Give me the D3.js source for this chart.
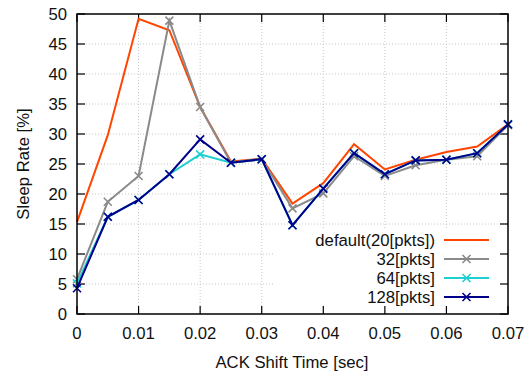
<!DOCTYPE html>
<html><head><meta charset="utf-8">
<script src="https://cdn.jsdelivr.net/npm/d3@7"></script>
<style>body{margin:0;background:#fff}svg{display:block}text{font-family:"Liberation Sans",Arial,sans-serif}</style>
</head><body><svg id="c" width="531" height="372"></svg>
<script>
const xs = [0,0.005,0.01,0.015,0.02,0.025,0.03,0.035,0.04,0.045,0.05,0.055,0.06,0.065,0.07];
const sDefault = [15.3,29.8,49.2,47.3,34.5,25.4,25.9,18.4,21.8,28.3,24.1,25.7,27.0,27.9,31.6];
const s32 = [5.8,18.7,23.0,48.9,34.5,25.2,25.8,17.6,20.1,26.3,23.0,24.8,25.7,26.3,31.5];
const s64 = [5.1,16.2,19.0,23.3,26.6,25.2,25.8,14.8,20.9,26.8,23.3,25.6,25.7,26.8,31.6];
const s128 = [4.3,16.2,19.0,23.3,29.1,25.2,25.8,14.8,20.9,26.8,23.3,25.6,25.7,26.8,31.6];
const seriesNames = ["default(20[pkts])","32[pkts]","64[pkts]","128[pkts]"];
const seriesColors = ["#ff4500","#8a8a8a","#1ecfd2","#00008b"];
const seriesMarkers = [false,true,true,true];
const xTicks = [0,0.01,0.02,0.03,0.04,0.05,0.06,0.07];
const yTicks = [0,5,10,15,20,25,30,35,40,45,50];
const xTitle = "ACK Shift Time [sec]";
const yTitle = "Sleep Rate [%]";

const FS = 16.7;
const series = [sDefault,s32,s64,s128];
const L=77,R=508,T=14,B=314;
const svg = d3.select("#c");
const x = d3.scaleLinear().domain([0,0.07]).range([L,R]);
const y = d3.scaleLinear().domain([0,50]).range([B,T]);

// grid
const g = svg.append("g").attr("stroke","#c8c8c8").attr("stroke-width",1).attr("stroke-dasharray","1,2");
xTicks.slice(1,-1).forEach(t=>g.append("line").attr("x1",x(t)).attr("x2",x(t)).attr("y1",T).attr("y2",B));
yTicks.slice(1,-1).forEach(t=>g.append("line").attr("x1",L).attr("x2",R).attr("y1",y(t)).attr("y2",y(t)));

// legend background (opaque key)
svg.append("rect").attr("x",273).attr("y",228).attr("width",R-273).attr("height",B-228).attr("fill","#fff");

// ticks (inward, mirrored)
const tk = svg.append("g").attr("stroke","#000").attr("stroke-width",1.2);
xTicks.forEach(t=>{
  tk.append("line").attr("x1",x(t)).attr("x2",x(t)).attr("y1",B).attr("y2",B-8);
  tk.append("line").attr("x1",x(t)).attr("x2",x(t)).attr("y1",T).attr("y2",T+8);
});
yTicks.forEach(t=>{
  tk.append("line").attr("x1",L).attr("x2",L+8).attr("y1",y(t)).attr("y2",y(t));
  tk.append("line").attr("x1",R).attr("x2",R-8).attr("y1",y(t)).attr("y2",y(t));
});

// tick labels
const xFmt = d=> d===0?"0":d3.format(".2f")(d);
xTicks.forEach(t=>svg.append("text").attr("x",x(t)).attr("y",333).attr("text-anchor","middle")
  .attr("dominant-baseline","central").attr("font-size",FS).attr("fill","#111").text(xFmt(t)));
yTicks.forEach(t=>svg.append("text").attr("x",67).attr("y",y(t)).attr("text-anchor","end")
  .attr("dominant-baseline","central").attr("font-size",FS).attr("fill","#111").text(t));

// titles
svg.append("text").attr("x",292).attr("y",362).attr("text-anchor","middle").attr("dominant-baseline","central")
  .attr("font-size",FS).attr("fill","#111").text(xTitle);
svg.append("text").attr("transform","translate(23,164) rotate(-90)").attr("text-anchor","middle")
  .attr("dominant-baseline","central").attr("font-size",FS).attr("fill","#111").text(yTitle);

// lines
const line = d3.line().x((d,i)=>x(xs[i])).y(d=>y(d));
const cross = (sel,cx,cy,col)=>{
  const s=4;
  sel.append("path").attr("d",`M${cx-s},${cy-s}L${cx+s},${cy+s}M${cx-s},${cy+s}L${cx+s},${cy-s}`)
    .attr("stroke",col).attr("stroke-width",1.6).attr("fill","none");
};
series.forEach((s,k)=>{
  const gg = svg.append("g");
  gg.append("path").datum(s).attr("d",line).attr("fill","none").attr("stroke",seriesColors[k])
    .attr("stroke-width",2).attr("stroke-linejoin","miter");
  if(seriesMarkers[k]) s.forEach((v,i)=>cross(gg,x(xs[i]),y(v),seriesColors[k]));
});

// legend
seriesNames.forEach((n,k)=>{
  const yy = 240 + k*19;
  svg.append("text").attr("x",435).attr("y",yy).attr("text-anchor","end").attr("dominant-baseline","central")
    .attr("font-size",FS).attr("fill","#111").text(n);
  svg.append("line").attr("x1",444).attr("x2",489).attr("y1",yy).attr("y2",yy)
    .attr("stroke",seriesColors[k]).attr("stroke-width",2);
  if(seriesMarkers[k]) cross(svg,466.5,yy,seriesColors[k]);
});

// border
svg.append("rect").attr("x",L).attr("y",T).attr("width",R-L).attr("height",B-T)
  .attr("fill","none").attr("stroke","#000").attr("stroke-width",1.5);
</script></body></html>
